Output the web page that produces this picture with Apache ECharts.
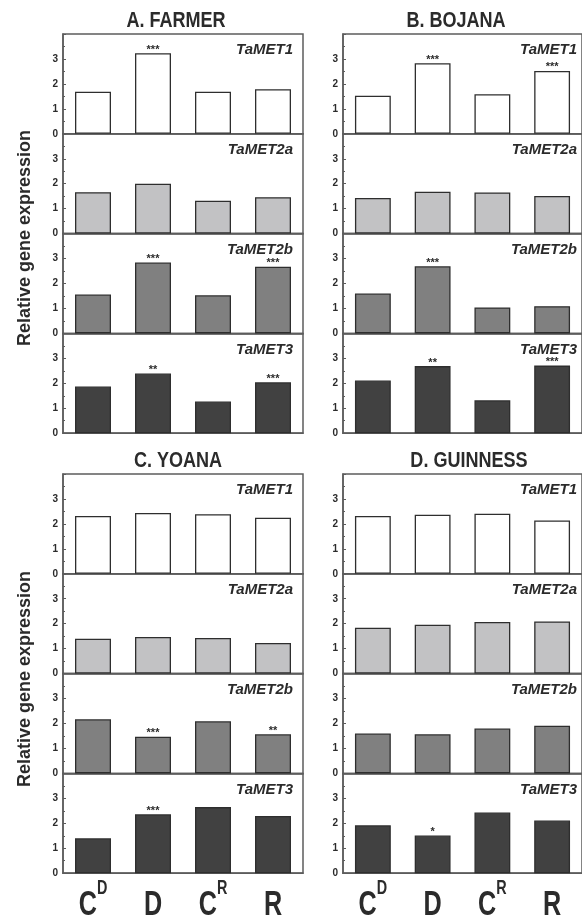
<!DOCTYPE html>
<html><head><meta charset="utf-8">
<script src="https://cdn.jsdelivr.net/npm/echarts@6/dist/echarts.min.js"></script>
<style>html,body{margin:0;padding:0;background:#fff}#c{width:582px;height:915px}</style>
</head><body><div id="c"></div>
<script>
// ---- data ----
const categories = ['C^D', 'D', 'C^R', 'R'];
const genes = ['TaMET1', 'TaMET2a', 'TaMET2b', 'TaMET3'];
const panelTitles = ['A. FARMER', 'B. BOJANA', 'C. YOANA', 'D. GUINNESS'];
const yAxisName = 'Relative gene expression';
const yTickLabels = [0, 1, 2, 3];

// values per panel, one array per gene (order: C^D, D, C^R, R)
const farmer_TaMET1  = [1.69, 3.23, 1.69, 1.79];
const farmer_TaMET2a = [1.66, 2.00, 1.32, 1.46];
const farmer_TaMET2b = [1.56, 2.84, 1.53, 2.67];
const farmer_TaMET3  = [1.87, 2.39, 1.27, 2.04];

const bojana_TaMET1  = [1.53, 2.83, 1.59, 2.52];
const bojana_TaMET2a = [1.43, 1.68, 1.65, 1.51];
const bojana_TaMET2b = [1.60, 2.69, 1.04, 1.09];
const bojana_TaMET3  = [2.11, 2.69, 1.32, 2.71];

const yoana_TaMET1  = [2.32, 2.44, 2.39, 2.25];
const yoana_TaMET2a = [1.40, 1.47, 1.43, 1.23];
const yoana_TaMET2b = [2.17, 1.47, 2.09, 1.57];
const yoana_TaMET3  = [1.40, 2.36, 2.65, 2.29];

const guinness_TaMET1  = [2.32, 2.37, 2.41, 2.14];
const guinness_TaMET2a = [1.84, 1.96, 2.07, 2.09];
const guinness_TaMET2b = [1.60, 1.57, 1.80, 1.91];
const guinness_TaMET3  = [1.92, 1.51, 2.43, 2.11];

// significance marks
const farmer_stars   = [['', '***', '', ''], ['', '', '', ''], ['', '***', '', '***'], ['', '**', '', '***']];
const bojana_stars   = [['', '***', '', '***'], ['', '', '', ''], ['', '***', '', ''], ['', '**', '', '***']];
const yoana_stars    = [['', '', '', ''], ['', '', '', ''], ['', '***', '', '**'], ['', '***', '', '']];
const guinness_stars = [['', '', '', ''], ['', '', '', ''], ['', '', '', ''], ['', '*', '', '']];

const panelValues = [
  [farmer_TaMET1, farmer_TaMET2a, farmer_TaMET2b, farmer_TaMET3],
  [bojana_TaMET1, bojana_TaMET2a, bojana_TaMET2b, bojana_TaMET3],
  [yoana_TaMET1, yoana_TaMET2a, yoana_TaMET2b, yoana_TaMET3],
  [guinness_TaMET1, guinness_TaMET2a, guinness_TaMET2b, guinness_TaMET3]
];
const panelStars = [farmer_stars, bojana_stars, yoana_stars, guinness_stars];

// ---- style / layout ----
const geneColors = ['#ffffff', '#c2c2c4', '#808080', '#414141'];
const frameColor = '#5c5c5c';
const textColor = '#2b2b2b';
const sans = '"Liberation Sans", Arial, Helvetica, sans-serif';
const colLeft = [63, 343];
const rowTop = [34, 474];
const subH = 99.8;
const plotW = 240;
const labelInset = [10, 6];
const titlePos = [[176, 10], [456, 10], [178, 450], [469, 450]];
const yNamePos = [[25, 238], [25, 679]];
const xLabelTop = 878;

const grids = [], xAxes = [], yAxes = [], series = [], graphics = [];
const bottomGridIdx = [];

for (let p = 0; p < 4; p++) {
  const col = p % 2, row = Math.floor(p / 2);
  for (let g = 0; g < 4; g++) {
    const idx = p * 4 + g;
    const top = rowTop[row] + g * subH;
    if (row === 1 && g === 3) bottomGridIdx.push(idx);
    grids.push({left: colLeft[col], top: top, width: plotW, height: subH,
      show: true, borderColor: frameColor, borderWidth: 1.5, backgroundColor: 'transparent'});
    xAxes.push({type: 'category', gridIndex: idx, data: categories,
      axisLine: {lineStyle: {color: frameColor, width: 1.5}},
      axisTick: {show: false},
      axisLabel: {show: false}
    });
    yAxes.push({type: 'value', gridIndex: idx, min: 0, max: 4, interval: 1,
      axisLine: {show: true, lineStyle: {color: frameColor, width: 1.5}},
      axisTick: {show: true, inside: true, length: 3, lineStyle: {color: frameColor}},
      minorTick: {show: true, splitNumber: 2, length: 2, lineStyle: {color: frameColor}},
      splitLine: {show: false},
      axisLabel: {margin: 5, fontFamily: sans, fontSize: 10, fontWeight: 'bold', color: textColor,
        formatter: function (v) { return yTickLabels.indexOf(v) >= 0 ? String(v) : ''; }}
    });
    const stars = panelStars[p][g];
    series.push({type: 'bar', xAxisIndex: idx, yAxisIndex: idx, data: panelValues[p][g],
      barWidth: '60%', silent: true, animation: false,
      itemStyle: {color: geneColors[g], borderColor: '#2e2e2e', borderWidth: 1.3},
      label: {show: true, position: 'top', distance: -2, fontFamily: sans, fontSize: 11,
        fontWeight: 'bold', color: textColor, lineHeight: 11,
        formatter: function (prm) { return stars[prm.dataIndex]; }}
    });
    graphics.push({type: 'text', x: colLeft[col] + plotW - labelInset[col], y: top + 16,
      style: {text: genes[g], font: 'italic bold 15px ' + sans, fill: textColor,
        align: 'right', verticalAlign: 'middle', textAlign: 'right', textVerticalAlign: 'middle'}});
  }
  graphics.push({type: 'text', x: titlePos[p][0], y: titlePos[p][1], scaleX: 0.82,
    style: {text: panelTitles[p], font: 'bold 22px ' + sans, fill: textColor,
      align: 'center', verticalAlign: 'top', textAlign: 'center', textVerticalAlign: 'top'}});
}
for (let r = 0; r < 2; r++) {
  graphics.push({type: 'text', x: yNamePos[r][0], y: yNamePos[r][1], rotation: Math.PI / 2,
    style: {text: yAxisName, font: 'bold 18px ' + sans, fill: textColor,
      align: 'center', verticalAlign: 'middle', textAlign: 'center', textVerticalAlign: 'middle'}});
}

const chart = echarts.init(document.getElementById('c'), null, {renderer: 'canvas'});
chart.setOption({
  backgroundColor: '#ffffff',
  animation: false,
  grid: grids, xAxis: xAxes, yAxis: yAxes, series: series
});

// category labels: positioned through the category axis scale, drawn condensed
function catRich(v) {
  const parts = v.split('^');
  return parts[1] ? '{m|' + parts[0] + '}{s|' + parts[1] + '}' : '{m|' + parts[0] + '}';
}
bottomGridIdx.forEach(function (idx) {
  categories.forEach(function (c) {
    const px = chart.convertToPixel({xAxisIndex: idx}, c);
    graphics.push({type: 'text', x: px, y: xLabelTop, scaleX: 0.72,
      style: {text: catRich(c), align: 'center', verticalAlign: 'top',
        textAlign: 'center', textVerticalAlign: 'top', fill: textColor,
        rich: {
          m: {fontFamily: sans, fontSize: 35, fontWeight: 'bold', lineHeight: 45, fill: textColor, color: textColor, verticalAlign: 'bottom'},
          s: {fontFamily: sans, fontSize: 20, fontWeight: 'bold', lineHeight: 20, fill: textColor, color: textColor, verticalAlign: 'top'}
        }}});
  });
});
chart.setOption({graphic: {elements: graphics}});
</script></body></html>
